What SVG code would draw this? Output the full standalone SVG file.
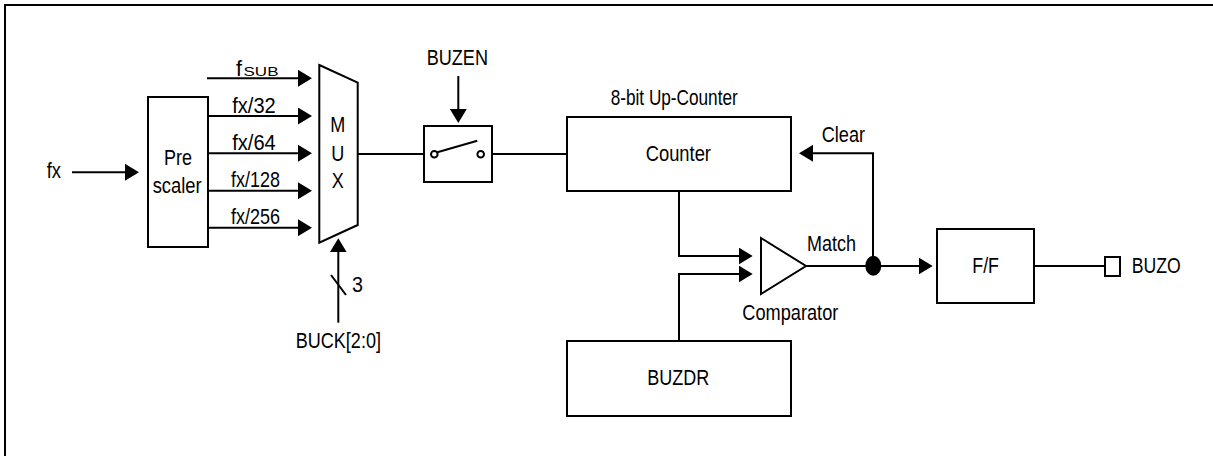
<svg xmlns="http://www.w3.org/2000/svg" width="1213" height="456" viewBox="0 0 1213 456">
  <style>
    .box { fill: #fff; stroke: #000; stroke-width: 2; }
    .wire { fill: none; stroke: #000; stroke-width: 2; }
    .arr { fill: none; stroke: #000; stroke-width: 2; marker-end: url(#head); }
    text { font-family: "Liberation Sans", Arial, sans-serif; font-size: 22px; fill: #000; }
    .mid { text-anchor: middle; }
  </style>
  <defs>
    <marker id="head" markerUnits="userSpaceOnUse" markerWidth="14" markerHeight="17" refX="10" refY="8.5" orient="auto">
      <path d="M0,0 L14,8.5 L0,17 z" fill="#000"/>
    </marker>
  </defs>

  <!-- frame: only left and top edges fall inside the page -->
  <rect x="5" y="5" width="1230" height="480" fill="none" stroke="#000" stroke-width="2"/>

  <g id="connectors">
    <!-- fx into prescaler -->
    <line class="arr" x1="72" y1="172.3" x2="135" y2="172.3"/>
    <!-- clock sources into MUX -->
    <line class="arr" x1="207" y1="78.3" x2="308" y2="78.3"/>
    <line class="arr" x1="208" y1="116" x2="308" y2="116"/>
    <line class="arr" x1="208" y1="153.3" x2="308" y2="153.3"/>
    <line class="arr" x1="208" y1="190.7" x2="308" y2="190.7"/>
    <line class="arr" x1="208" y1="227.7" x2="308" y2="227.7"/>
    <!-- BUCK select bus -->
    <line class="arr" x1="338.3" y1="322.7" x2="338.3" y2="242.3"/>
    <line class="wire" x1="331" y1="275" x2="346" y2="295"/>
    <!-- MUX -> switch -> counter -->
    <line class="wire" x1="358" y1="154" x2="424" y2="154"/>
    <line class="wire" x1="492" y1="154" x2="567" y2="154"/>
    <!-- BUZEN enable -->
    <line class="arr" x1="458.3" y1="76" x2="458.3" y2="119"/>
    <!-- counter / BUZDR into comparator -->
    <polyline class="arr" points="679,191 679,256 748.7,256"/>
    <polyline class="arr" points="679,341 679,274 748.7,274"/>
    <!-- match out to F/F and clear back to counter -->
    <line class="arr" x1="806" y1="266" x2="928.7" y2="266"/>
    <polyline class="arr" points="873,266 873,153.3 803,153.3"/>
    <ellipse cx="873.3" cy="265.7" rx="8" ry="10" fill="#000"/>
    <!-- F/F to output pin -->
    <line class="wire" x1="1034" y1="266" x2="1105" y2="266"/>
  </g>

  <g id="fx-in">
    <text x="46.7" y="178.3" textLength="14.3" lengthAdjust="spacingAndGlyphs">fx</text>
  </g>

  <g id="prescaler">
    <rect class="box" x="148" y="97" width="60" height="150"/>
    <text x="164" y="165" textLength="28" lengthAdjust="spacingAndGlyphs">Pre</text>
    <text x="152.7" y="192.7" textLength="49" lengthAdjust="spacingAndGlyphs">scaler</text>
  </g>

  <g id="clock-labels">
    <text x="236" y="75.7" textLength="6" lengthAdjust="spacingAndGlyphs">f</text>
    <text x="243.5" y="75.7" style="font-size:12px" textLength="35" lengthAdjust="spacingAndGlyphs">SUB</text>
    <text x="232.3" y="112.5" textLength="43.4" lengthAdjust="spacingAndGlyphs">fx/32</text>
    <text x="232.3" y="149.5" textLength="43.4" lengthAdjust="spacingAndGlyphs">fx/64</text>
    <text x="231" y="186.7" textLength="49" lengthAdjust="spacingAndGlyphs">fx/128</text>
    <text x="231" y="224.3" textLength="49" lengthAdjust="spacingAndGlyphs">fx/256</text>
  </g>

  <g id="mux">
    <polygon class="box" points="319.3,65 357.7,82.7 357.7,225 319.3,242.7"/>
    <text class="mid" x="337.7" y="131.7" transform="translate(337.7 0) scale(0.82 1) translate(-337.7 0)">M</text>
    <text class="mid" x="337.7" y="160.7" transform="translate(337.7 0) scale(0.82 1) translate(-337.7 0)">U</text>
    <text class="mid" x="337.7" y="188.5" transform="translate(337.7 0) scale(0.82 1) translate(-337.7 0)">X</text>
  </g>

  <g id="buck">
    <text x="352" y="291.7" textLength="11" lengthAdjust="spacingAndGlyphs">3</text>
    <text x="295.7" y="348.3" textLength="85.3" lengthAdjust="spacingAndGlyphs">BUCK[2:0]</text>
  </g>

  <g id="switch">
    <rect class="box" x="424" y="126" width="68" height="56"/>
    <circle cx="434.3" cy="154.3" r="3.3" fill="#fff" stroke="#000" stroke-width="2"/>
    <circle cx="480.7" cy="154.3" r="3.3" fill="#fff" stroke="#000" stroke-width="2"/>
    <line class="wire" x1="437.3" y1="152.3" x2="477.3" y2="140.7"/>
    <text x="426.7" y="65" textLength="61.3" lengthAdjust="spacingAndGlyphs">BUZEN</text>
  </g>

  <g id="counter">
    <rect class="box" x="567" y="117" width="224" height="74"/>
    <text x="610.7" y="105" textLength="127" lengthAdjust="spacingAndGlyphs">8-bit Up-Counter</text>
    <text x="645.7" y="161" textLength="65.3" lengthAdjust="spacingAndGlyphs">Counter</text>
    <text x="821.7" y="141.7" textLength="43.3" lengthAdjust="spacingAndGlyphs">Clear</text>
  </g>

  <g id="comparator">
    <polygon class="box" points="761,238 806,266 761,294"/>
    <text x="807" y="251" textLength="49" lengthAdjust="spacingAndGlyphs">Match</text>
    <text x="742.3" y="320" textLength="96" lengthAdjust="spacingAndGlyphs">Comparator</text>
  </g>

  <g id="buzdr">
    <rect class="box" x="567" y="341" width="224" height="75"/>
    <text x="647.3" y="385" textLength="62" lengthAdjust="spacingAndGlyphs">BUZDR</text>
  </g>

  <g id="flipflop">
    <rect class="box" x="937" y="229" width="97" height="74"/>
    <text x="972.3" y="273.3" textLength="26.7" lengthAdjust="spacingAndGlyphs">F/F</text>
  </g>

  <g id="buzo">
    <rect class="box" x="1105" y="257" width="15" height="19"/>
    <text x="1131.7" y="273.3" textLength="49" lengthAdjust="spacingAndGlyphs">BUZO</text>
  </g>
</svg>
